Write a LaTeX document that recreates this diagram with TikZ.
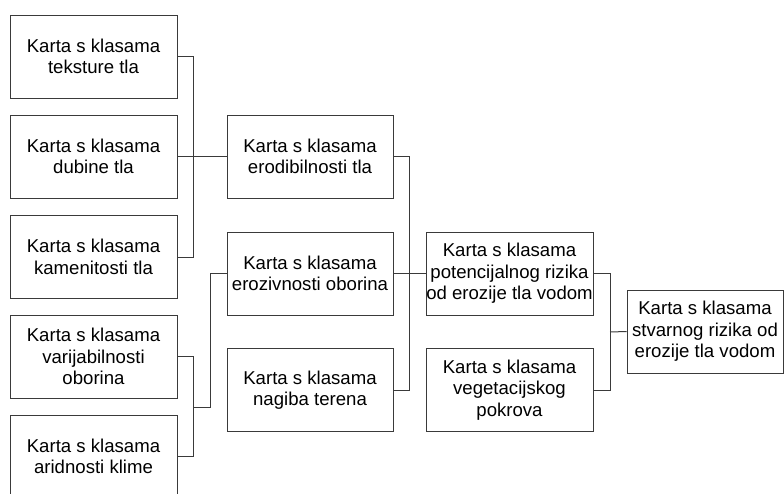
\documentclass[tikz,border=0pt]{standalone}
\usepackage{fontspec}
\setmainfont{Liberation Sans}
\begin{document}
\begin{tikzpicture}[x=1pt,y=-1pt,
  box/.style={draw=linegray, line width=1pt, minimum width=167pt, minimum height=83pt,
    inner xsep=0pt, inner ysep=0pt, align=center, font=\fontsize{18.6}{21.5}\selectfont, text=black},
  conn/.style={draw=linegray, line width=1pt}]
\definecolor{linegray}{HTML}{3A3A3A}
\useasboundingbox (0,0) rectangle (784,493);
\clip (0,0) rectangle (784,493);
\fill[white] (0,0) rectangle (784,493);
% column 1
\node[box] (teks) at (93.5,56.5) {Karta s klasama\\teksture tla};
\node[box] (dub) at (93.5,156.5) {Karta s klasama\\dubine tla};
\node[box] (kam) at (93.5,257) {Karta s klasama\\kamenitosti tla};
\node[box] (var) at (93.5,356.5) {Karta s klasama\\varijabilnosti\\oborina};
\node[box] (arid) at (93.5,456.5) {Karta s klasama\\aridnosti klime};
% column 2
\node[box, minimum width=166pt] (erod) at (310,156.5) {Karta s klasama\\erodibilnosti tla};
\node[box, minimum width=166pt] (eroz) at (310,273.5) {Karta s klasama\\erozivnosti oborina};
\node[box, minimum width=166pt] (nag) at (310,390) {Karta s klasama\\nagiba terena};
% column 3
\node[box] (pot) at (509.5,273.5) {Karta s klasama\\potencijalnog rizika\\od erozije tla vodom};
\node[box] (veg) at (509.5,390) {Karta s klasama\\vegetacijskog\\pokrova};
% final
\node[box, minimum width=156pt] (fin) at (705,331.5) {Karta s klasama\\stvarnog rizika od\\erozije tla vodom};
% connectors
\draw[conn] (teks.east) -- ++(16,0) |- (kam.east);
\draw[conn] (dub.east) -- (erod.west);
\draw[conn] (var.east) -- ++(16,0) |- (arid.east);
\coordinate (j1) at (193,407);
\draw[conn] (j1) -- ++(17,0) |- (eroz.west);
\draw[conn] (erod.east) -- ++(16,0) |- (nag.east);
\draw[conn] (eroz.east) -- (pot.west);
\draw[conn] (pot.east) -- ++(17,0) |- (veg.east);
\coordinate (j2) at (610,332);
\draw[conn] (j2) -- (fin.west);
\end{tikzpicture}
\end{document}
